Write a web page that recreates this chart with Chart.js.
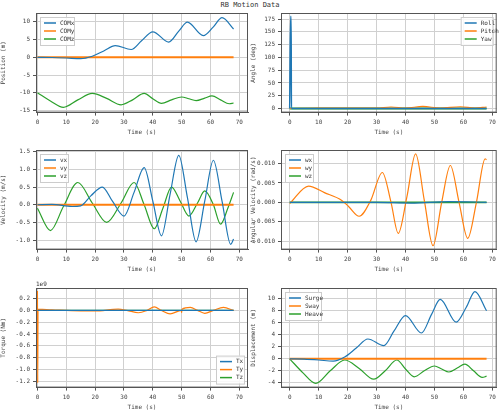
<!DOCTYPE html>
<html>
<head>
<meta charset="utf-8">
<script src="https://cdn.jsdelivr.net/npm/chart.js@4"></script>
<style>
body { margin:0; background:#fff; width:500px; height:416px; position:relative; overflow:hidden; font-family:"DejaVu Sans Mono", monospace; }
#title { position:absolute; top:1px; left:0; width:500px; text-align:center; font-size:7px; color:#333; }
canvas { position:absolute; }
</style>
</head>
<body>
<div id="title">RB Motion Data</div>
<canvas id="c1"></canvas><canvas id="c2"></canvas>
<canvas id="c3"></canvas><canvas id="c4"></canvas>
<canvas id="c5"></canvas><canvas id="c6"></canvas>
<script>
// time / value pairs
const comxT = [0, 5, 10, 15, 19, 23, 27, 32.5, 36, 40, 45.5, 49, 52, 57.5, 61, 64, 68];
const comxV = [0, -0.05, -0.2, -0.4, 0.3, 1.8, 3.3, 2.2, 4.6, 7.2, 4.3, 7.4, 9.9, 6.1, 8.6, 11.2, 8.0];
const comzT = [0, 4.5, 9, 14, 19, 24, 29, 33, 37, 40, 43, 46.5, 50, 52.5, 55, 58, 60.5, 63.5, 66.5, 68];
const comzV = [-10, -12.3, -14.1, -12.0, -10.2, -11.6, -13.4, -12.0, -10.2, -11.7, -13.0, -12.0, -11.2, -11.7, -12.2, -11.5, -10.9, -12.0, -13.1, -12.9];
const rollT = [0, 0.3, 0.5, 0.6, 68];
const rollV = [0, 180, 180, 0, 0];
const pitchT = [0, 10, 20, 30, 35, 40, 46, 52, 59, 64, 68];
const pitchV = [0, 1, 1, 1, 3, 1, 4, 1, 3.5, 1, 3];
const vxT = [0, 5, 12, 15, 18.5, 22.5, 26, 30, 33.5, 37, 40, 43, 46, 49, 52, 55, 58, 61, 64, 67, 68];
const vxV = [0, 0.01, -0.05, -0.03, 0.25, 0.5, 0.1, -0.32, 0.35, 1.05, 0.1, -0.88, 0.3, 1.4, 0.2, -1.05, 0.1, 1.26, 0.1, -1.12, -0.97];
const vzT = [0, 4.5, 9, 14, 19, 24, 29, 33.5, 37, 40.5, 43.5, 46.5, 49.5, 52.5, 55.5, 58, 61, 63.5, 66, 68];
const vzV = [-0.1, -0.73, -0.05, 0.63, 0.05, -0.5, 0.05, 0.63, 0.0, -0.68, -0.1, 0.5, 0.1, -0.32, 0.05, 0.39, 0.0, -0.55, -0.1, 0.35];
const wyT = [0, 6.5, 12, 18, 20.5, 24, 28, 32, 35, 37.5, 40.5, 43.5, 46.5, 49.5, 52.5, 55.5, 58.5, 61.5, 64.5, 67.5, 68];
const wyV = [-0.0003, 0.0042, 0.0025, 0.0005, -0.0012, -0.0036, 0.0005, 0.0077, 0.0, -0.008, 0.0015, 0.0125, 0.0005, -0.0112, 0.0, 0.0095, 0.0, -0.0093, 0.0, 0.0112, 0.011];
const wxT = [0, 30, 42, 55, 68];
const wxV = [0, 0, -0.0002, 0.0002, 0];
const tpT = [0, 0.1, 0.2, 5, 20, 28, 31, 35, 38, 40.5, 43, 46, 49.9, 50, 50.1, 53, 55.5, 58, 61, 64.5, 68];
const tpV = [0.33, -1.23, 0.02, 0.01, -0.01, 0.02, 0.0, -0.04, 0.0, 0.06, 0.0, -0.06, 0.0, -0.04, 0.02, 0.05, 0.0, -0.05, 0.0, 0.05, 0];
const heaveV = comzV.map(v => v + 10);
const flatT = [0, 68];
const flatV = [0, 0];

const C_BLUE = '#1f77b4', C_ORANGE = '#ff7f0e', C_GREEN = '#2ca02c';
const FONT = { family: 'DejaVu Sans Mono', size: 6 };

function pts(t, v) { return t.map((x, i) => ({ x: x, y: v[i] })); }
function ds(label, color, t, v, w) {
    return { label: label, data: pts(t, v), borderColor: color, backgroundColor: color,
        borderWidth: w || 1.2, pointRadius: 0, tension: 0.4, cubicInterpolationMode: 'monotone' };
}

const frame = {
    id: 'frame',
    afterDraw(chart, args, o) {
        const a = chart.chartArea, ctx = chart.ctx;
        ctx.save();
        ctx.strokeStyle = '#555'; ctx.lineWidth = 1;
        ctx.strokeRect(a.left + 0.5, a.top + 0.5, a.right - a.left - 1, a.bottom - a.top - 1);
        // legend box
        const items = chart.data.datasets;
        ctx.font = '6px "DejaVu Sans Mono"';
        const bw = o.w, bh = items.length * 8 + 4;
        const bx = o.pos === 'br' ? a.right - bw - 4 : (o.pos === 'tr' ? a.right - bw - 4 : a.left + 4);
        const by = o.pos === 'br' ? a.bottom - bh - 4 : a.top + 4;
        ctx.fillStyle = 'rgba(255,255,255,0.85)';
        ctx.strokeStyle = '#ccc';
        ctx.fillRect(bx, by, bw, bh); ctx.strokeRect(bx + 0.5, by + 0.5, bw, bh);
        items.forEach((d, i) => {
            const y = by + 6 + i * 8;
            ctx.strokeStyle = d.borderColor; ctx.lineWidth = 1.5;
            ctx.beginPath(); ctx.moveTo(bx + 4, y); ctx.lineTo(bx + 16, y); ctx.stroke();
            ctx.fillStyle = '#333'; ctx.textBaseline = 'middle';
            ctx.fillText(d.label, bx + 20, y);
        });
        if (o.exp) { ctx.fillStyle = '#333'; ctx.textBaseline = 'bottom'; ctx.fillText(o.exp, a.left, a.top - 1); }
        ctx.restore();
    }
};

function make(id, box, yw, datasets, y, xr, yTitle, leg) {
    const el = document.getElementById(id);
    el.style.left = box[0] + 'px'; el.style.top = box[1] + 'px';
    el.style.width = box[2] + 'px'; el.style.height = box[3] + 'px';
    el.width = box[2]; el.height = box[3];
    new Chart(el.getContext('2d'), {
        type: 'line',
        data: { datasets: datasets },
        plugins: [frame],
        options: {
            animation: false, responsive: false, devicePixelRatio: 1,
            layout: { padding: { top: 10, right: 2 } },
            plugins: { legend: { display: false }, tooltip: { enabled: false }, frame: leg },
            scales: {
                x: { type: 'linear', min: xr[0], max: xr[1],
                    ticks: { stepSize: 10, font: FONT, color: '#444', maxRotation: 0,
                        callback: v => (v % 10 === 0 ? v : '') },
                    afterBuildTicks: s => { s.ticks = [0,10,20,30,40,50,60,70].map(v => ({ value: v })); },
                    grid: { color: '#d0d0d0', lineWidth: 1, tickLength: 3, tickColor: '#555' },
                    border: { color: '#555' },
                    title: { display: true, text: 'Time (s)', font: FONT, color: '#444', padding: 0 } },
                y: { min: y[0], max: y[1],
                    afterBuildTicks: s => { s.ticks = y[2].map(v => ({ value: v })); },
                    afterFit: s => { s.width = yw; },
                    ticks: { font: FONT, color: '#444', callback: y[3] },
                    grid: { color: '#d0d0d0', lineWidth: 1, tickLength: 3, tickColor: '#555' },
                    border: { color: '#555' },
                    title: { display: true, text: yTitle, font: FONT, color: '#444', padding: 0 } }
            }
        }
    });
}

const L = [-0.5, 73], R = [-3, 71.5];
make('c1', [0, 3, 250, 133], 36, [
    ds('COMx', C_BLUE, comxT, comxV), ds('COMy', C_ORANGE, flatT, flatV, 2), ds('COMz', C_GREEN, comzT, comzV)],
    [-15.6, 12.5, [-15, -10, -5, 0, 5, 10]], L, 'Position (m)', { w: 34 });
make('c2', [250, 3, 249, 133], 31, [
    ds('Roll', C_BLUE, rollT, rollV, 1.5), ds('Pitch', C_ORANGE, pitchT, pitchV), ds('Yaw', C_GREEN, flatT, flatV, 1.8)],
    [-8, 187, [0, 25, 50, 75, 100, 125, 150, 175]], R, 'Angle (deg)', { w: 32, pos: 'tr' });
make('c3', [0, 140, 250, 133], 36, [
    ds('vx', C_BLUE, vxT, vxV), ds('vy', C_ORANGE, flatT, flatV, 2), ds('vz', C_GREEN, vzT, vzV)],
    [-1.27, 1.55, [-1.0, -0.5, 0, 0.5, 1.0, 1.5], v => v.toFixed(1)], L, 'Velocity (m/s)', { w: 28 });
make('c4', [250, 140, 249, 133], 31, [
    ds('wx', C_BLUE, wxT, wxV), ds('wy', C_ORANGE, wyT, wyV), ds('wz', C_GREEN, flatT, flatV, 1.8)],
    [-0.0122, 0.0135, [-0.01, -0.005, 0, 0.005, 0.01], v => v.toFixed(3)], R, 'Angular Velocity (rad/s)', { w: 28 });
make('c5', [0, 278, 250, 133], 36, [
    ds('Tx', C_BLUE, flatT, flatV), ds('Ty', C_ORANGE, tpT, tpV), ds('Tz', C_GREEN, flatT, flatV)],
    [-1.31, 0.38, [-1.2, -1.0, -0.8, -0.6, -0.4, -0.2, 0, 0.2], v => v.toFixed(1)], L, 'Torque (Nm)', { w: 28, pos: 'br', exp: '1e9' });
make('c6', [250, 278, 249, 133], 31, [
    ds('Surge', C_BLUE, comxT, comxV), ds('Sway', C_ORANGE, flatT, flatV, 2), ds('Heave', C_GREEN, comzT, heaveV)],
    [-4.8, 11.8, [-4, -2, 0, 2, 4, 6, 8, 10]], R, 'Displacement (m)', { w: 36 });
</script>
</body>
</html>
